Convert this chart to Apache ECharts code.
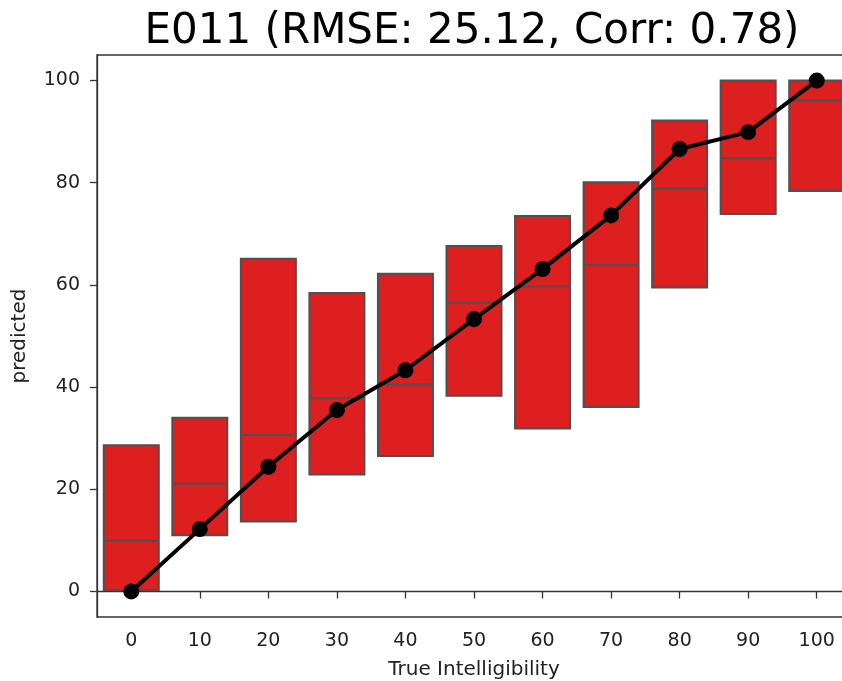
<!DOCTYPE html>
<html>
<head>
<meta charset="utf-8">
<script src="https://cdn.jsdelivr.net/npm/echarts@6/dist/echarts.min.js"></script>
<style>
html,body{margin:0;padding:0;background:#fff;overflow:hidden;width:842px;height:681px;}
#main{width:851px;height:681px;}
</style>
</head>
<body>
<div id="main"></div>
<script>
const categories = ['0','10','20','30','40','50','60','70','80','90','100'];
const q1Values     = [0.3, 11.0, 13.7, 22.9, 26.5, 38.3, 31.9, 36.1, 59.5, 73.9, 78.4];
const medianValues = [9.9, 21.1, 30.6, 37.8, 40.5, 56.5, 59.7, 63.9, 78.8, 84.8, 96.1];
const q3Values     = [28.6, 34.0, 65.1, 58.4, 62.2, 67.6, 73.5, 80.1, 92.2, 100.0, 100.0];
const meanValues   = [0.0, 12.2, 24.4, 35.5, 43.3, 53.3, 63.1, 73.6, 86.6, 89.9, 100.0];
const yTicks = [0, 20, 40, 60, 80, 100];

const boxData = categories.map((c, i) => [q1Values[i], q1Values[i], medianValues[i], q3Values[i], q3Values[i]]);

const chart = echarts.init(document.getElementById('main'), null, {renderer: 'canvas'});
const font = 'DejaVu Sans';
chart.setOption({
  animation: false,
  backgroundColor: '#fff',
  title: {
    text: 'E011 (RMSE: 25.12, Corr: 0.78)',
    left: 467, top: 6, textAlign: 'center',
    textStyle: {fontFamily: font, fontSize: 42, fontWeight: 'normal', color: '#000'}
  },
  grid: {left: 97, right: 0, top: 55, bottom: 64, outerBoundsMode: 'none', containLabel: false,
         show: true, borderColor: '#333', borderWidth: 1.3, backgroundColor: 'transparent'},
  xAxis: {
    type: 'category',
    data: categories,
    boundaryGap: true,
    name: 'True Intelligibility',
    nameLocation: 'middle',
    nameGap: 43,
    nameTextStyle: {fontFamily: font, fontSize: 20, color: '#222'},
    axisLine: {show: true, lineStyle: {color: '#333', width: 1.3}},
    axisTick: {show: true, alignWithLabel: true, length: 7, lineStyle: {color: '#333', width: 1.3}},
    axisLabel: {fontFamily: font, fontSize: 19, color: '#222', margin: 15},
    splitLine: {show: false}
  },
  yAxis: {
    type: 'value',
    min: -5, max: 105,
    name: 'predicted',
    nameLocation: 'middle',
    nameGap: 67,
    nameTextStyle: {fontFamily: font, fontSize: 20, color: '#222'},
    axisLine: {show: true, lineStyle: {color: '#333', width: 1.3}},
    axisTick: {show: true, length: 7, customValues: yTicks, lineStyle: {color: '#333', width: 1.3}},
    axisLabel: {fontFamily: font, fontSize: 19, color: '#222', margin: 17, customValues: yTicks},
    splitLine: {show: false}
  },
  series: [
    {
      type: 'boxplot',
      data: boxData,
      boxWidth: [55, 55],
      itemStyle: {color: '#dd1f1f', borderColor: '#505050', borderWidth: 2},
      z: 2
    },
    {
      type: 'line',
      data: meanValues,
      symbol: 'circle',
      symbolSize: 16,
      lineStyle: {color: '#000', width: 4},
      itemStyle: {color: '#000'},
      z: 5
    }
  ]
});
</script>
</body>
</html>
